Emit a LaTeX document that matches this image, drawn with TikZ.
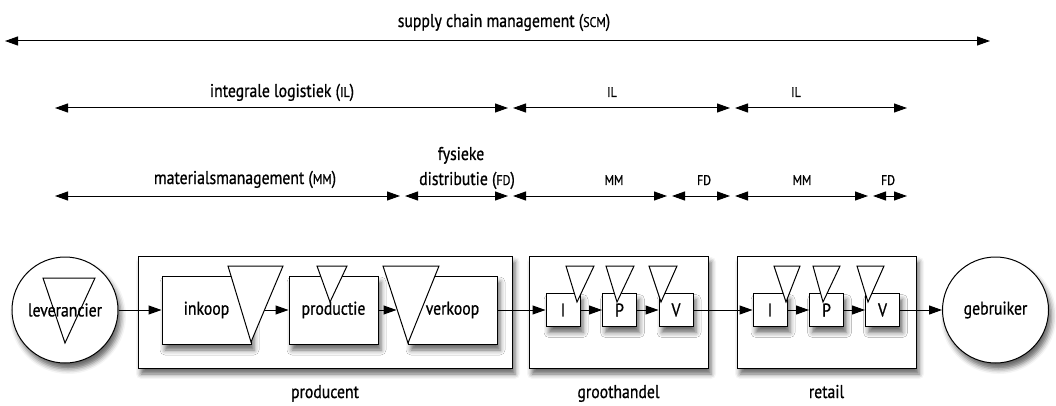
\documentclass[tikz,border=0pt]{standalone}
\usepackage{fontspec}
\setmainfont{PT Sans}[FakeStretch=0.85,FakeBold=0.8]
\usetikzlibrary{arrows.meta,shadows.blur}

\newcommand{\ab}[1]{{\fontsize{14}{14}\selectfont #1}}

\tikzset{
  lbl/.style={font=\fontsize{18.5}{22}\selectfont, inner sep=0pt, anchor=base},
  span/.style={{Triangle[length=13pt,width=9pt]}-{Triangle[length=13pt,width=9pt]}, line width=1pt},
  flow/.style={-{Triangle[length=13pt,width=9pt]}, line width=1pt},
  shd/.style={blur shadow={shadow xshift=3pt, shadow yshift=-6pt, shadow blur radius=5pt, shadow opacity=60}},
  firm/.style={draw, fill=white, line width=1pt, shd, inner sep=0pt, font=\fontsize{18.5}{22}\selectfont},
  stage/.style={firm, minimum width=89pt, minimum height=68pt},
  sub/.style={firm, minimum width=34pt, minimum height=33pt},
  party/.style={firm, circle, minimum size=106pt},
  stock/.style={draw, fill=white, line width=1pt, line join=miter},
}

\begin{document}
\begin{tikzpicture}[x=1pt, y=-1pt]
  \useasboundingbox (0,0) rectangle (1056,406);

  % spans
  \draw[span] (5,41) -- (990,41);
  \node[lbl] at (504,27) {supply chain management (\ab{SCM})};

  \draw[span] (55,108) -- (508,108);
  \draw[span] (513,108) -- (730,108);
  \draw[span] (735,108) -- (907,108);
  \node[lbl] at (282,97) {integrale logistiek (\ab{IL})};
  \node[lbl] at (612,97) {\ab{IL}};
  \node[lbl] at (796,97) {\ab{IL}};

  \draw[span] (55,196) -- (400,196);
  \draw[span] (405,196) -- (508,196);
  \draw[span] (513,196) -- (667,196);
  \draw[span] (672,196) -- (730,196);
  \draw[span] (735,196) -- (868,196);
  \draw[span] (873,196) -- (907,196);
  \node[lbl] at (245,184) {materialsmanagement (\ab{MM})};
  \node[lbl] at (461,160) {fysieke};
  \node[lbl] at (467,185) {distributie (\ab{FD})};
  \node[lbl] at (614,185) {\ab{MM}};
  \node[lbl] at (704,185) {\ab{FD}};
  \node[lbl] at (802,185) {\ab{MM}};
  \node[lbl] at (888,185) {\ab{FD}};

  % chain
  \node[firm, minimum width=374pt, minimum height=112pt] (prod) at (325,312) {};
  \node[firm, minimum width=179pt, minimum height=112pt] (groot) at (618.5,312) {};
  \node[firm, minimum width=179pt, minimum height=112pt] (ret) at (826.5,312) {};
  \node[lbl] at (prod.south |- 0,398) {producent};
  \node[lbl] at (groot.south |- 0,398) {groothandel};
  \node[lbl] at (ret.south |- 0,398) {retail};

  \node[party] (lev) at (65,310) {};
  \node[party] (geb) at (995.5,310) {gebruiker};

  \node[stage] (ink) at (206.5,310) {inkoop};
  \node[stage] (pro) at (333.5,310) {productie};
  \node[stage] (ver) at (452.5,310) {verkoop};

  \node[sub] (gi) at (563,310) {I};
  \node[sub] (gp) at (619.5,310) {P};
  \node[sub] (gv) at (676,310) {V};
  \node[sub] (ri) at (770,310) {I};
  \node[sub] (rp) at (826.5,310) {P};
  \node[sub] (rv) at (882.5,310) {V};

  \draw[flow] (lev) -- (ink);
  \draw[flow] (ink) -- (pro);
  \draw[flow, shorten >=11pt] (pro) -- (ver);
  \draw[flow] (ver) -- (gi);
  \draw[flow] (gi) -- (gp);
  \draw[flow] (gp) -- (gv);
  \draw[flow] (gv) -- (ri);
  \draw[flow] (ri) -- (rp);
  \draw[flow] (rp) -- (rv);
  \draw[flow] (rv) -- (geb);

  % stock triangles
  \foreach \l/\r/\a/\t/\b in {43/95/65/278/343, 228/283/251/266/342,
      317/347/330/266/302, 383/439/408/266/343,
      566/594/577/266/302, 606/634/617/266/302, 649/677/661/266/302,
      774/800/786/266/302, 813/840/823/266/302, 857/884/868/266/302}
    \draw[stock] (\l,\t) -- (\r,\t) -- (\a,\b) -- cycle;

  \node[lbl, anchor=center] at (lev) {leverancier};
\end{tikzpicture}
\end{document}
